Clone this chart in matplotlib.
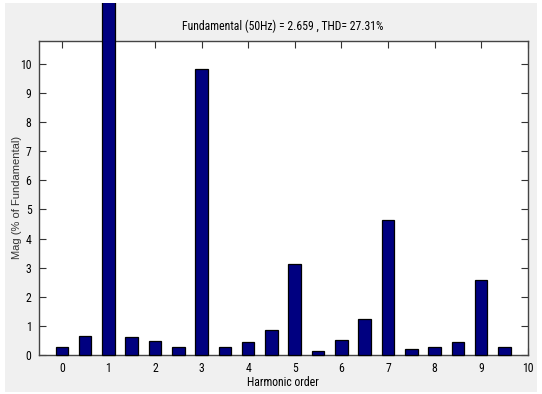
import matplotlib
matplotlib.use("Agg")
import matplotlib.pyplot as plt
from matplotlib.patches import Rectangle
from matplotlib.transforms import Bbox, TransformedBbox
import matplotlib.font_manager as fm

# Data
harmonic_order = [0, 0.5, 1, 1.5, 2, 2.5, 3, 3.5, 4, 4.5,
                  5, 5.5, 6, 6.5, 7, 7.5, 8, 8.5, 9, 9.5]
magnitude = [0.26, 0.66, 100.0, 0.61, 0.47, 0.27, 9.83, 0.27, 0.43, 0.86,
             3.13, 0.15, 0.5, 1.24, 4.64, 0.2, 0.27, 0.44, 2.57, 0.27]
xticks = list(range(0, 11))
yticks = list(range(0, 11))
title_text = "Fundamental (50Hz) = 2.659 , THD= 27.31%"
xlabel_text = "Harmonic order"
ylabel_text = "Mag (% of Fundamental)"

# look for a condensed sans font
cands = []
for f in fm.fontManager.ttflist:
    st = str(f.stretch).lower()
    nm = f.name.lower()
    if ("narrow" in nm or "condensed" in nm or st in ("condensed", "semi-condensed", "extra-condensed")
            or (isinstance(f.stretch, int) and f.stretch < 500)):
        if f.style == "normal" and f.weight in (400, "normal", "regular"):
            cands.append(f)
def rank(f):
    nm = f.name.lower()
    if "liberation" in nm: return 0
    if "arial" in nm: return 1
    if "roboto" in nm: return 2
    if "open sans" in nm: return 3
    if "noto" in nm: return 4
    if "dejavu" in nm: return 5
    return 9
cands.sort(key=rank)
if cands:
    narrow_fp = lambda size: fm.FontProperties(fname=cands[0].fname, size=size)
else:
    narrow_fp = lambda size: fm.FontProperties(family="Liberation Sans", size=size)

W, H = 542, 394
fig = plt.figure(figsize=(W / 100, H / 100), dpi=100, facecolor="white")

# grey panel
px0, py0, px1, py1 = 5 / W, 1 - 392 / H, 537 / W, 1 - 3 / H
bg = Rectangle((px0, py0), px1 - px0, py1 - py0, transform=fig.transFigure,
               facecolor="#f0f0f0", edgecolor="none", zorder=-5)
fig.patches.append(bg)

ax = fig.add_axes([38.5 / W, 1 - 355 / H, (527.7 - 38.5) / W, (355 - 40.7) / H])
ax.set_zorder(1)
ax.set_facecolor("white")

bars = ax.bar(harmonic_order, magnitude, width=0.27, color="#000080",
              edgecolor="black", linewidth=0.9, zorder=3)
clipbox = TransformedBbox(Bbox([[px0, py0], [px1, py1]]), fig.transFigure)
for b in bars:
    b.set_clip_box(clipbox)

ax.set_xlim(-0.5, 10)
ax.set_ylim(0, 10.8)
ax.set_xticks(xticks)
ax.set_yticks(yticks)
ax.tick_params(direction="in", length=5, width=0.8, top=True, right=True,
               color="#333333", pad=5)
for lab in ax.get_xticklabels() + ax.get_yticklabels():
    lab.set_fontproperties(narrow_fp(8.5))
for s in ax.spines.values():
    s.set_color("#444444")
    s.set_linewidth(1.0)

ax.set_xlabel(xlabel_text, fontproperties=narrow_fp(8.5))
ax.xaxis.set_label_coords(0.5, -(376 - 355) / (355 - 40.7))
ax.set_ylabel(ylabel_text, fontsize=8, family=["Liberation Sans", "DejaVu Sans"],
              color="#333333")
ax.yaxis.set_label_coords(-(38.5 - 22) / (527.7 - 38.5), 0.5)
fig.text((38.5 + 527.7) / 2 / W, 1 - 26 / H, title_text, ha="center", va="center",
         fontproperties=narrow_fp(8.5))

fig.savefig("out.png", dpi=100, facecolor=fig.get_facecolor())
